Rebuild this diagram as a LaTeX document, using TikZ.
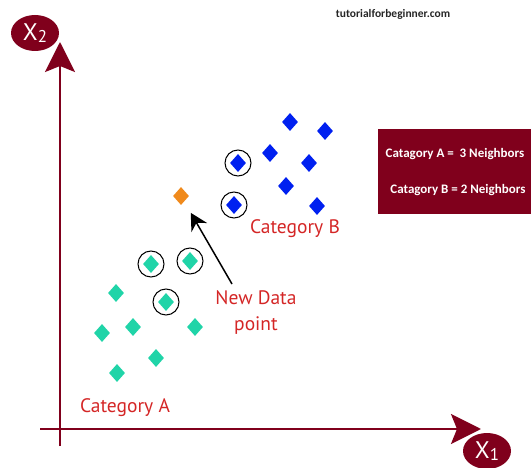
\documentclass[tikz,border=0pt]{standalone}
\usepackage{fontspec}
\setmainfont{PT Sans}
\newfontfamily\boxfont{Carlito}
\usetikzlibrary{shapes,arrows.meta,positioning}

\definecolor{axisred}{RGB}{128,0,28}
\definecolor{catred}{RGB}{212,38,38}
\definecolor{catgreen}{RGB}{32,212,168}
\definecolor{catblue}{RGB}{0,32,240}
\definecolor{neworange}{RGB}{240,138,28}

\begin{document}
\begin{tikzpicture}[
    x=1pt, y=-1pt,
    sample/.style={diamond, inner sep=0pt, minimum width=16pt, minimum height=18pt},
    sampleA/.style={sample, fill=catgreen},
    sampleB/.style={sample, fill=catblue},
    nbr/.style={draw, circle, line width=1pt, minimum size=26pt, inner sep=0pt},
    axisline/.style={draw=axisred, line width=2.5pt, -{Stealth[length=30pt,width=30pt,inset=6pt]}},
    axlabel/.style={ellipse, fill=axisred, text=white, minimum width=48pt, minimum height=36pt, inner sep=0pt, font=\fontsize{24}{24}\selectfont},
    catlabel/.style={text=catred, font=\fontsize{19.5}{26}\selectfont, align=center},
    pointer/.style={-{Stealth[length=17pt,width=18pt]}, line width=1.5pt}
]
    \useasboundingbox (0,0) rectangle (531,468);

    % Aksene med etiketter
    \node [axlabel] (x2) at (35,33) {X{\fontsize{17}{17}\selectfont\raisebox{-2pt}{2}}};
    \node [axlabel] (x1) at (487,451) {X{\fontsize{17}{17}\selectfont\raisebox{-2pt}{1}}};
    \coordinate (ybot) at (60,446);
    \coordinate (ytip) at (60,42);
    \coordinate (xleft) at (40,429);
    \coordinate (xtip) at (481,429);
    \draw [axisline] (ybot) -- (ytip);
    \draw [axisline] (xleft) -- (xtip);

    % Punktene i kategori A og B
    \foreach \px/\py [count=\i] in {151/264, 190/261, 166/302, 116/293, 133/327, 102/333, 195/327, 156/358, 117/373}
        \node [sampleA] (a\i) at (\px,\py) {};
    \foreach \px/\py [count=\i] in {238/163, 234/205, 290/122, 325/131, 270/153, 309/163, 286/186, 317/206}
        \node [sampleB] (b\i) at (\px,\py) {};
    \node [sample, fill=neworange] (new) at (181,196) {};

    % Naboene ringes inn
    \foreach \n in {a1,a2,a3,b1,b2}
        \node [nbr] (c\n) at (\n) {};

    % Tekster
    \node [catlabel] (catA) at (125,408) {Category A};
    \node [catlabel] (catB) at (295,229) {Category B};
    \node [catlabel] (newlbl) at (256,313) {New Data\\point};
    \coordinate (tail) at (232,284);
    \draw [pointer, shorten >=13pt] (tail) -- (new);

    \node [fill=axisred, minimum width=154pt, minimum height=85pt, text=white, align=center,
        font=\boxfont\bfseries\fontsize{13}{36}\selectfont] (legend) at (455,172)
        {Catagory A = \ 3 Neighbors\\\ \ Catagory B = 2 Neighbors};
    \node [font=\boxfont\bfseries\fontsize{11.5}{12}\selectfont, text=black!85] (site) at (393,14) {tutorialforbeginner.com};

\end{tikzpicture}
\end{document}
